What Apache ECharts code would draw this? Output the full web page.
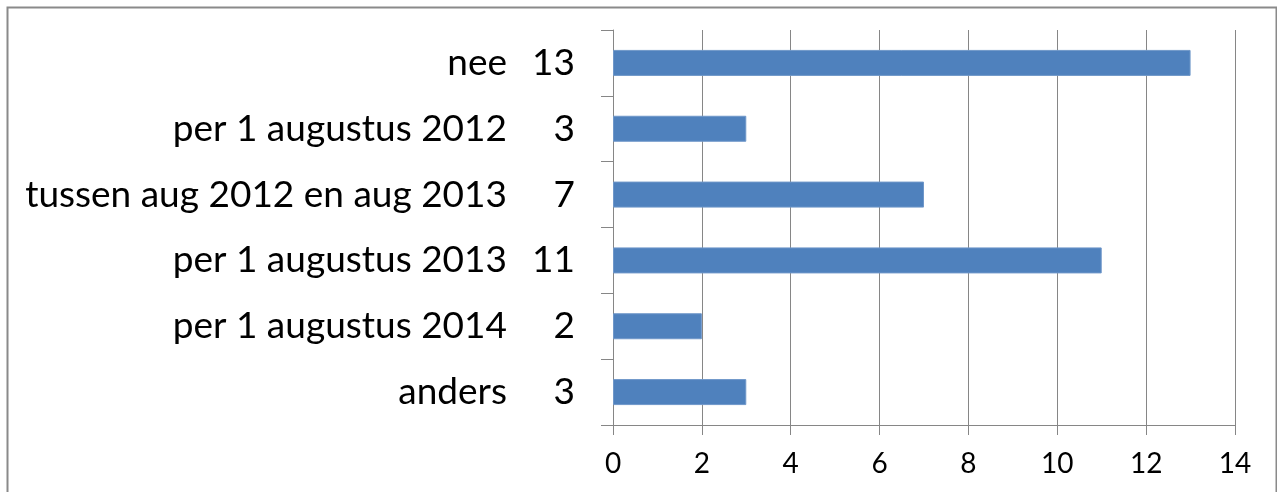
<!DOCTYPE html>
<html>
<head>
<meta charset="utf-8">
<script src="https://cdn.jsdelivr.net/npm/echarts@6/dist/echarts.min.js"></script>
<style>
html,body{margin:0;padding:0;background:#fff;}
#c{width:1277px;height:492px;}
</style>
</head>
<body>
<div id="c"></div>
<script>
const categories = ["nee", "per 1 augustus 2012", "tussen aug 2012 en aug 2013", "per 1 augustus 2013", "per 1 augustus 2014", "anders"];
const values = [13, 3, 7, 11, 2, 3];
const xTicks = [0, 2, 4, 6, 8, 10, 12, 14];

const FONT = 'Lato';
const chart = echarts.init(document.getElementById('c'));
chart.setOption({
  animation: false,
  backgroundColor: '#fff',
  graphic: [{
    type: 'rect',
    left: 5, top: 5,
    shape: {width: 1269, height: 520},
    style: {fill: 'none', stroke: '#8a8a8a', lineWidth: 2},
    silent: true
  }],
  grid: {left: 613, right: 42, top: 30, bottom: 67, containLabel: false},
  xAxis: {
    type: 'value',
    min: xTicks[0], max: xTicks[xTicks.length - 1], interval: 2,
    axisLine: {show: true, lineStyle: {color: '#868686', width: 1}},
    axisTick: {show: true, length: 10, lineStyle: {color: '#868686'}},
    splitLine: {show: true, lineStyle: {color: '#868686', width: 1}},
    axisLabel: {fontFamily: FONT, fontSize: 28, color: '#000', margin: 25}
  },
  yAxis: {
    type: 'category',
    data: categories,
    inverse: true,
    axisLine: {show: true, lineStyle: {color: '#868686', width: 1}},
    axisTick: {show: true, length: 12, lineStyle: {color: '#868686'}},
    splitLine: {show: false},
    axisLabel: {
      margin: 38,
      formatter: function (val, idx) { return '{n|' + val + '}{v|' + values[idx] + '}'; },
      rich: {
        n: {fontFamily: FONT, fontSize: 37, color: '#000'},
        v: {fontFamily: FONT, fontSize: 37, color: '#000', width: 68, align: 'right'}
      }
    }
  },
  series: [{
    type: 'bar',
    data: values,
    barWidth: 26,
    itemStyle: {color: '#4F81BD', borderColor: '#6f97c9', borderWidth: 1},
    silent: true
  }]
});
</script>
</body>
</html>
